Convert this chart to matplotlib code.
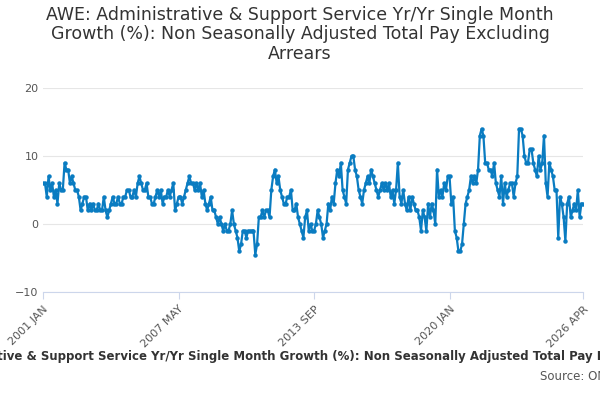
import matplotlib.pyplot as plt

values = [
    6, 6, 4, 7, 5, 6, 4, 5, 3, 6, 5, 5,
    9, 8, 8, 6, 7, 6, 5, 5, 4, 2, 3, 4,
    4, 2, 3, 2, 3, 2, 2, 3, 2, 2, 4, 2,
    1, 2, 3, 4, 3, 3, 4, 3, 3, 4, 4, 5,
    5, 4, 4, 5, 4, 6, 7, 6, 5, 5, 6, 4,
    4, 3, 3, 4, 5, 4, 5, 3, 4, 4, 5, 4,
    5, 6, 2, 3, 4, 4, 3, 4, 5, 6, 7, 6,
    6, 5, 6, 5, 6, 4, 5, 3, 2, 3, 4, 2,
    2, 1, 0, 1, 0, -1, 0, -1, -1, 0, 2, 0,
    -1, -2, -4, -3, -1, -1, -2, -1, -1, -1, -1, -4.5,
    -3, 1, 1, 2, 1, 2, 2, 1, 5, 7, 8, 6,
    7, 5, 4, 3, 3, 4, 4, 5, 2, 2, 3, 1,
    0, -1, -2, 1, 2, -1, 0, -1, -1, 0, 2, 1,
    0, -2, -1, 0, 3, 2, 4, 3, 6, 8, 7, 9,
    5, 4, 3, 8, 9, 10, 10, 8, 7, 5, 4, 3,
    5, 6, 7, 6, 8, 7, 6, 5, 4, 5, 6, 5,
    6, 5, 6, 4, 5, 3, 5, 9, 4, 3, 5, 3,
    2, 4, 2, 4, 3, 2, 2, 1, -1, 2, 1, -1,
    3, 1, 3, 2, 0, 8, 4, 5, 4, 6, 5, 7,
    7, 3, 4, -1, -2, -4, -4, -3, 0, 3, 4, 5,
    7, 6, 7, 6, 8, 13, 14, 13, 9, 9, 8, 8,
    7, 9, 6, 5, 4, 7, 3, 6, 4, 5, 6, 6,
    4, 6, 7, 14, 14, 13, 10, 9, 9, 11, 11, 9,
    8, 7, 10, 8, 9, 13, 6, 4, 9, 8, 7, 5,
    5, -2, 4, 3, 1, -2.5, 3, 4, 1, 2, 3, 2,
    5, 1, 3, 3,
]
tick_labels = ["2001 JAN", "2007 MAY", "2013 SEP", "2020 JAN", "2026 APR"]
tick_pos = [0, 76, 152, 228, len(values) - 1]

fig = plt.figure(figsize=(6, 4), dpi=100)
ax = fig.add_axes([0.072, 0.27, 0.9, 0.51])

ax.plot(range(len(values)), values, color="#0a7cc1", linewidth=1.6,
        marker="o", markersize=2.2)

ax.set_xlim(0, len(values) - 1)
ax.set_ylim(-10, 20)
ax.set_yticks([-10, 0, 10, 20])
ax.set_xticks(tick_pos)
ax.set_xticklabels(tick_labels, rotation=45, ha="right", rotation_mode="anchor")
ax.tick_params(labelsize=8, colors="#555555", length=0)
ax.tick_params(axis="x", length=5, color="#ccd6eb")
ax.grid(axis="y", color="#e6e6e6")
for s in ["top", "right", "left"]:
    ax.spines[s].set_visible(False)
ax.spines["bottom"].set_color("#ccd6eb")

fig.text(0.5, 0.985, "AWE: Administrative & Support Service Yr/Yr Single Month\n"
         "Growth (%): Non Seasonally Adjusted Total Pay Excluding\nArrears",
         ha="center", va="top", fontsize=12.5, color="#333333", linespacing=1.1)
fig.text(0.5, 0.1, "AWE: Administrative & Support Service Yr/Yr Single Month Growth (%): "
         "Non Seasonally Adjusted Total Pay Excluding Arrears",
         ha="center", fontsize=8.5, fontweight="bold", color="#333333")
fig.text(0.9, 0.05, "Source: ONS", ha="left", fontsize=8.5, color="#555555")

fig.savefig("out.png")
